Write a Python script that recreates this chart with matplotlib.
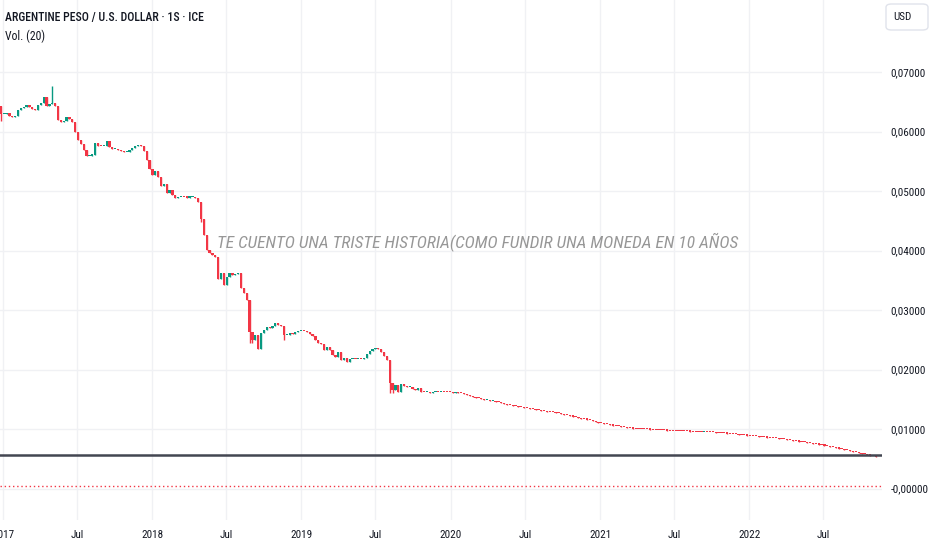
import matplotlib
matplotlib.use('Agg')
import matplotlib.pyplot as plt
from matplotlib.patches import FancyBboxPatch
import numpy as np
import pandas as pd

# weekly closes, ARS/USD, starting week of 2016-12-26
closes = [
    0.06294, 0.06294, 0.06311, 0.06261, 0.06244, 0.06261, 0.06361, 0.06395, 0.06412, 0.06445,
    0.06412, 0.06378, 0.06361, 0.06445, 0.06479, 0.06580, 0.06429, 0.06462, 0.06479, 0.06429,
    0.06193, 0.06160, 0.06176, 0.06244, 0.06210, 0.06160, 0.05992, 0.05857, 0.05790, 0.05689,
    0.05588, 0.05595, 0.05605, 0.05807, 0.05756, 0.05750, 0.05760, 0.05840, 0.05739, 0.05706,
    0.05710, 0.05689, 0.05672, 0.05655, 0.05660, 0.05689, 0.05723, 0.05756, 0.05773, 0.05756,
    0.05672, 0.05521, 0.05370, 0.05269, 0.05336, 0.05235, 0.05084, 0.05118, 0.04966, 0.05017,
    0.04933, 0.04882, 0.04899, 0.04905, 0.04895, 0.04890, 0.04899, 0.04905, 0.04882, 0.04815,
    0.04529, 0.04261, 0.04008, 0.03958, 0.03924, 0.03891, 0.03521, 0.03622, 0.03420, 0.03555,
    0.03622, 0.03588, 0.03605, 0.03622, 0.03370, 0.03286, 0.03168, 0.02630, 0.02496, 0.02580,
    0.02344, 0.02613, 0.02664, 0.02714, 0.02697, 0.02731, 0.02782, 0.02748, 0.02731, 0.02580,
    0.02585, 0.02613, 0.02597, 0.02630, 0.02647, 0.02650, 0.02640, 0.02630, 0.02597, 0.02563,
    0.02496, 0.02445, 0.02429, 0.02328, 0.02378, 0.02328, 0.02244, 0.02210, 0.02294, 0.02160,
    0.02193, 0.02126, 0.02176, 0.02180, 0.02176, 0.02180, 0.02176, 0.02193, 0.02261, 0.02311,
    0.02344, 0.02361, 0.02344, 0.02294, 0.02227, 0.02160, 0.01773, 0.01655, 0.01739, 0.01622,
    0.01756, 0.01723, 0.01706, 0.01710, 0.01672, 0.01655, 0.01689, 0.01622, 0.01620, 0.01625,
    0.01605, 0.01622, 0.01625, 0.01622, 0.01625, 0.01622, 0.01620, 0.01618, 0.01605, 0.01615,
    0.01605, 0.01600, 0.01588, 0.01571, 0.01555, 0.01538, 0.01521, 0.01518, 0.01504, 0.01487,
    0.01490, 0.01471, 0.01475, 0.01454, 0.01450, 0.01437, 0.01420, 0.01403, 0.01400, 0.01387,
    0.01383, 0.01370, 0.01366, 0.01353, 0.01349, 0.01336, 0.01332, 0.01319, 0.01315, 0.01303,
    0.01299, 0.01292, 0.01286, 0.01278, 0.01270, 0.01262, 0.01252, 0.01240, 0.01230, 0.01220,
    0.01210, 0.01197, 0.01185, 0.01172, 0.01165, 0.01158, 0.01150, 0.01140, 0.01110, 0.01104,
    0.01095, 0.01085, 0.01076, 0.01067, 0.01058, 0.01050, 0.01043, 0.01036, 0.01029, 0.01021,
    0.01014, 0.01007, 0.01000, 0.00998, 0.00996, 0.00994, 0.00992, 0.00990, 0.00987, 0.00983,
    0.00981, 0.00978, 0.00976, 0.00973, 0.00971, 0.00969, 0.00966, 0.00963, 0.00962, 0.00960,
    0.00959, 0.00957, 0.00956, 0.00954, 0.00953, 0.00951, 0.00955, 0.00948, 0.00945, 0.00942,
    0.00939, 0.00936, 0.00933, 0.00928, 0.00923, 0.00918, 0.00913, 0.00908, 0.00904, 0.00899,
    0.00894, 0.00889, 0.00885, 0.00880, 0.00875, 0.00870, 0.00866, 0.00861, 0.00856, 0.00851,
    0.00846, 0.00841, 0.00837, 0.00832, 0.00825, 0.00818, 0.00811, 0.00803, 0.00796, 0.00789,
    0.00782, 0.00775, 0.00768, 0.00760, 0.00753, 0.00745, 0.00738, 0.00731, 0.00721, 0.00712,
    0.00702, 0.00692, 0.00682, 0.00672, 0.00664, 0.00653, 0.00642, 0.00631, 0.00620, 0.00609,
    0.00597, 0.00586, 0.00575, 0.00564, 0.00553, 0.00542, 0.00531,
]
first_open = 0.06429

# the few weeks with visible wicks
wick_index = [0, 18, 70, 87, 88, 99, 136, 137]
wick_high = [0.06429, 0.06765, 0.04815, 0.03168, 0.02630, 0.02731, 0.02160, 0.01773]
wick_low = [0.06176, 0.06462, 0.04479, 0.02445, 0.02445, 0.02496, 0.01605, 0.01605]

x_tick_dates = ['2017-01-01', '2017-07-01', '2018-01-01', '2018-07-01', '2019-01-01', '2019-07-01',
                '2020-01-01', '2020-07-01', '2021-01-01', '2021-07-01', '2022-01-01', '2022-07-01']
x_tick_labels = ['2017', 'Jul', '2018', 'Jul', '2019', 'Jul', '2020', 'Jul', '2021', 'Jul', '2022', 'Jul']
y_ticks = [0.0, 0.01, 0.02, 0.03, 0.04, 0.05, 0.06, 0.07]
y_tick_labels = ['-0,00000', '0,01000', '0,02000', '0,03000', '0,04000', '0,05000', '0,06000', '0,07000']

support_level = 0.00563
zero_level = 0.00042

plt.rcParams['font.family'] = ['Roboto Condensed', 'DejaVu Sans']
UP = '#089981'
DOWN = '#f23645'
TXT = '#131722'

dates = pd.date_range('2016-12-26', periods=len(closes), freq='7D')
closes = np.array(closes)
opens = np.concatenate([[first_open], closes[:-1]])
highs = np.maximum(opens, closes)
lows = np.minimum(opens, closes)
for i, h, l in zip(wick_index, wick_high, wick_low):
    highs[i] = max(highs[i], h)
    lows[i] = min(lows[i], l)
colors = np.where(closes >= opens, UP, DOWN)

fig = plt.figure(figsize=(9.32, 5.5), dpi=100)
ax = fig.add_axes([0, 30 / 550, 882 / 932, 520 / 550])

# candles: wick + body (at least one pixel tall)
min_body = 0.00019
body_bottom = np.minimum(opens, closes)
body_height = np.maximum(np.abs(closes - opens), min_body)
ax.vlines(dates, lows, highs, colors=colors, lw=1, zorder=3)
ax.bar(dates, body_height, bottom=body_bottom, width=5.5, color=colors, linewidth=0, zorder=3)

ax.axhline(support_level, color='#434651', lw=1.8, zorder=4)
ax.axhline(zero_level, color=DOWN, lw=1, linestyle=(0, (1, 2)), zorder=4)

ax.set_xlim(pd.Timestamp('2016-12-24'), pd.Timestamp('2022-11-22'))
ax.set_ylim(-0.00529, 0.0821)

ax.set_xticks(pd.to_datetime(x_tick_dates))
ax.set_xticklabels(x_tick_labels)
ax.set_yticks(y_ticks)
ax.set_yticklabels(y_tick_labels)
ax.yaxis.tick_right()
ax.tick_params(axis='both', length=0, labelsize=8, labelcolor=TXT)
ax.tick_params(axis='x', pad=7)
ax.tick_params(axis='y', pad=6)
ax.grid(True, color='#f0f1f4', lw=1)
ax.set_axisbelow(True)
for s in ax.spines.values():
    s.set_visible(False)

ax.text(217 / 882, 1 - 242 / 520, 'TE CUENTO UNA TRISTE HISTORIA(COMO FUNDIR UNA MONEDA EN 10 AÑOS',
        transform=ax.transAxes, fontsize=12.5, style='italic', color='#979797', va='center', ha='left')

fig.text(5 / 932, 1 - 17 / 550, 'ARGENTINE PESO / U.S. DOLLAR · 1S · ICE',
         fontsize=8.5, fontweight='medium', color=TXT, va='center', ha='left')
fig.text(5 / 932, 1 - 36 / 550, 'Vol. (20)', fontsize=8.5, color=TXT, va='center', ha='left')

box = FancyBboxPatch((886 / 932, 1 - 30 / 550), 42 / 932, 26 / 550,
                     boxstyle='round,pad=0,rounding_size=0.006', transform=fig.transFigure,
                     fc='white', ec='#e0e3eb', lw=1)
fig.patches.append(box)
fig.text(893 / 932, 1 - 17 / 550, 'USD', fontsize=8, color=TXT, va='center', ha='left')

fig.savefig('out.png', dpi=100)
